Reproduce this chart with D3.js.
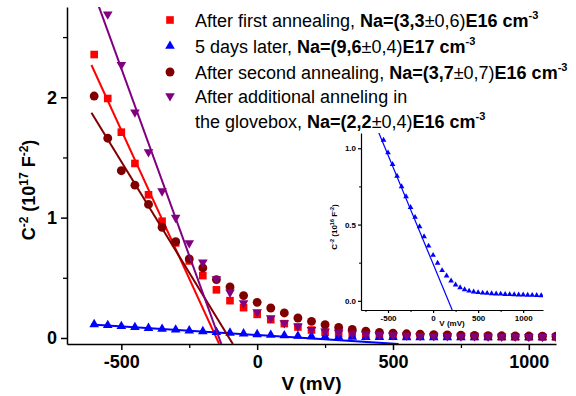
<!DOCTYPE html>
<html>
<head>
<meta charset="utf-8">
<script src="https://cdn.jsdelivr.net/npm/d3@7"></script>
<style>
  body { margin: 0; background: #fff; }
  svg { display: block; font-family: Arial, "Liberation Sans", sans-serif; }
</style>
</head>
<body>
<div id="app"></div>
<script>
// bias voltage (mV) of the main curves
const volts = [-600, -550, -500, -450, -400, -350, -300, -250, -200, -150, -100, -50,
  0, 50, 100, 150, 200, 250, 300, 350, 400, 450, 500, 550, 600, 650, 700, 750,
  800, 850, 900, 950, 1000, 1050, 1100];

// C^-2 in 1e17 F^-2
const firstAnneal = [2.355, 1.99, 1.71, 1.45, 1.19, 0.97, 0.79, 0.64, 0.518, 0.40, 0.31, 0.252,
  0.196, 0.152, 0.119, 0.091, 0.066, 0.047, 0.038, 0.032, 0.028, 0.024, 0.021, 0.019,
  0.017, 0.016, 0.015, 0.014, 0.013, 0.012, 0.011, 0.010, 0.010, 0.009, 0.009];
const secondAnneal = [2.01, 1.66, 1.39, 1.27, 1.11, 0.92, 0.80, 0.657, 0.582, 0.485, 0.424, 0.352,
  0.296, 0.249, 0.208, 0.166, 0.138, 0.110, 0.088, 0.071, 0.057, 0.047, 0.040, 0.035,
  0.031, 0.028, 0.025, 0.023, 0.021, 0.019, 0.018, 0.017, 0.016, 0.015, 0.014];
const glovebox = [null, 2.69, 2.27, 1.875, 1.546, 1.22, 1.0, 0.79, 0.628, 0.49, 0.379, 0.291,
  0.216, 0.166, 0.125, 0.097, 0.069, 0.055, 0.045, 0.038, 0.032, 0.027, 0.024, 0.021,
  0.019, 0.017, 0.016, 0.015, 0.014, 0.013, 0.012, 0.012, 0.011, 0.011, 0.010];

// "5 days later" series, C^-2 in 1e16 F^-2 (inset units)
const blueVolts = [-600, -550, -500, -450, -400, -350, -300, -250, -200, -150, -100, -50,
  0, 50, 100, 150, 200, 250, 300, 350, 400, 450, 500, 550, 600, 650, 700, 750,
  800, 850, 900, 950, 1000, 1050, 1100, 1150, 1200];
const daysLater = [1.13, 1.054, 0.971, 0.895, 0.818, 0.749, 0.683, 0.613, 0.548, 0.487, 0.421, 0.36,
  0.299, 0.247, 0.199, 0.164, 0.131, 0.105, 0.087, 0.074, 0.065, 0.059, 0.055, 0.052,
  0.050, 0.048, 0.046, 0.045, 0.043, 0.042, 0.041, 0.040, 0.039, 0.038, 0.037, 0.036, 0.035];

// linear fits: x-intercept (mV) and slope (1e17 F^-2 per mV)
const fitIntercept = [-150, 170, -103, -140];
const fitSlope = [-0.00493, -0.0001426, -0.00369, -0.00622];

const legendText = ["After first annealing, ", "5 days later, ", "After second annealing, ", "After additional anneling in", "the glovebox, "];
const legendNa = ["(3,3", "(9,6", "(3,7", null, "(2,2"];
const legendErr = ["±0,6)", "±0,4)", "±0,7)", null, "±0,4)"];
const legendExp = ["E16", "E17", "E16", null, "E16"];

const xTicks = [-500, 0, 500, 1000], xMinor = [-250, 250, 750];
const yTicks = [0, 1, 2], yMinor = [0.5, 1.5, 2.5];
const ixTicks = [-500, 0, 500, 1000], ixMinor = [-750, -250, 250, 750];
const iyTicks = [0, 0.5, 1.0], iyMinor = [0.25, 0.75];

const colors = ["#ff0000", "#0000ff", "#800000", "#800080"];

const x  = d3.scaleLinear().domain([-700, 1100]).range([67, 556]),
      y  = d3.scaleLinear().domain([-0.05, 2.75]).range([344, 7]),
      ix = d3.scaleLinear().domain([-800, 1220]).range([361, 543]),
      iy = d3.scaleLinear().domain([-0.06, 1.10]).range([310, 133]);

const svg = d3.select("#app")
.append("svg")
  .attr("width", 576)
  .attr("height", 396);

const defs = svg.append("defs");
defs.append("clipPath").attr("id", "clipMain")
.append("rect")
  .attr("x", x.range()[0]).attr("y", y.range()[1])
  .attr("width", x.range()[1] - x.range()[0])
  .attr("height", y.range()[0] - y.range()[1]);
defs.append("clipPath").attr("id", "clipInset")
.append("rect")
  .attr("x", ix.range()[0]).attr("y", iy.range()[1])
  .attr("width", ix.range()[1] - ix.range()[0])
  .attr("height", iy.range()[0] - iy.range()[1]);

function styleAxis(g, size, w) {
  g.attr("font-family", "Arial, 'Liberation Sans', sans-serif")
   .attr("font-size", size)
   .attr("font-weight", "bold");
  g.select(".domain").attr("stroke-width", w);
  g.selectAll(".tick line").attr("stroke-width", w);
}
const plain = d => String(d);

/* main axes */
svg.append("g")
  .attr("transform", `translate(0,${y.range()[0]})`)
  .call(d3.axisBottom(x).tickValues(xMinor).tickSize(4).tickFormat(""))
  .call(g => { g.select(".domain").remove(); g.selectAll("line").attr("stroke-width", 1.3); });
svg.append("g")
  .attr("transform", `translate(0,${y.range()[0]})`)
  .call(d3.axisBottom(x).tickValues(xTicks).tickSize(6).tickSizeOuter(0).tickPadding(5).tickFormat(plain))
  .call(g => styleAxis(g, 18, 1.5));
svg.append("g")
  .attr("transform", `translate(${x.range()[0]},0)`)
  .call(d3.axisLeft(y).tickValues(yMinor).tickSize(4).tickFormat(""))
  .call(g => { g.select(".domain").remove(); g.selectAll("line").attr("stroke-width", 1.3); });
svg.append("g")
  .attr("transform", `translate(${x.range()[0]},0)`)
  .call(d3.axisLeft(y).tickValues(yTicks).tickSize(6).tickSizeOuter(0).tickPadding(4).tickFormat(plain))
  .call(g => styleAxis(g, 18, 1.5));

svg.append("text")
  .attr("x", (x.range()[0] + x.range()[1]) / 2).attr("y", 390)
  .attr("text-anchor", "middle")
  .attr("font-size", 19).attr("font-weight", "bold")
  .text("V (mV)");

function supTitle(g, parts, supSize, rise) {
  parts.forEach(p => {
    const t = g.append("tspan").text(p[0]);
    if (p[1]) t.attr("font-size", supSize).attr("dy", -rise);
    else if (p[2]) t.attr("dy", rise);
  });
}
const yTitle = svg.append("text")
  .attr("transform", "translate(35,190) rotate(-90)")
  .attr("text-anchor", "middle")
  .attr("font-size", 18).attr("font-weight", "bold");
supTitle(yTitle, [["C"], ["-2", 1], [" (10", 0, 1], ["17", 1], [" F", 0, 1], ["-2", 1], [")", 0, 1]], 12, 7);

/* fit lines and points of the main plot */
const plot = svg.append("g").attr("clip-path", "url(#clipMain)");
const line = d3.line().x(d => x(d[0])).y(d => y(d[1]));

function fitPoints(k, scaleMul, yMin) {
  const f = v => fitSlope[k] * scaleMul * (v - fitIntercept[k]);
  const vEnd = fitIntercept[k] + yMin / (fitSlope[k] * scaleMul);
  return [[-610, f(-610)], [vEnd, f(vEnd)]];
}

const mainSeries = [
  { pts: volts.map((v, i) => [v, firstAnneal[i]]), type: d3.symbolSquare, size: 58, rot: 0 },
  { pts: blueVolts.map((v, i) => [v, daysLater[i] / 10]), type: d3.symbolTriangle, size: 40, rot: 0 },
  { pts: volts.map((v, i) => [v, secondAnneal[i]]), type: d3.symbolCircle, size: 62, rot: 0 },
  { pts: volts.map((v, i) => [v, glovebox[i]]), type: d3.symbolTriangle, size: 40, rot: 180 }
];

mainSeries.forEach((s, k) => {
  plot.selectAll(".m" + k)
    .data(s.pts.filter(d => d[1] != null))
  .enter()
  .append("path")
    .attr("class", "m" + k)
    .attr("transform", d => `translate(${x(d[0])},${y(d[1])}) rotate(${s.rot})`)
    .attr("d", d3.symbol().type(s.type).size(s.size))
    .attr("fill", colors[k]);
  plot.append("path")
    .datum(fitPoints(k, 1, -0.05))
    .attr("d", line)
    .attr("fill", "none")
    .attr("stroke", colors[k])
    .attr("stroke-width", 2);
});

/* legend */
const legend = svg.append("g").attr("font-size", 18);
const legendY = [20, 46, 72, 96, 121];
legendText.forEach((t, k) => {
  if (k < 4) {
    legend.append("path")
      .attr("transform", `translate(170,${legendY[k]}) rotate(${mainSeries[k].rot})`)
      .attr("d", d3.symbol().type(mainSeries[k].type).size(mainSeries[k].size))
      .attr("fill", colors[k]);
  }
  const txt = legend.append("text")
    .attr("x", 195).attr("y", legendY[k] + 6.5);
  txt.append("tspan").text(t);
  if (legendNa[k]) {
    txt.append("tspan").attr("font-weight", "bold").text("Na=" + legendNa[k]);
    txt.append("tspan").text(legendErr[k]);
    txt.append("tspan").attr("font-weight", "bold").text(legendExp[k] + " cm");
    txt.append("tspan").attr("font-weight", "bold").attr("font-size", 11).attr("dy", -8).text("-3");
  }
});

/* inset */
svg.append("g")
  .attr("transform", `translate(0,${iy.range()[0]})`)
  .call(d3.axisBottom(ix).tickValues(ixMinor).tickSize(2).tickFormat(""))
  .call(g => { g.select(".domain").remove(); g.selectAll("line").attr("stroke-width", 1); });
svg.append("g")
  .attr("transform", `translate(0,${iy.range()[0]})`)
  .call(d3.axisBottom(ix).tickValues(ixTicks).tickSize(3).tickSizeOuter(0).tickPadding(2).tickFormat(plain))
  .call(g => styleAxis(g, 8, 1.2));
svg.append("g")
  .attr("transform", `translate(${ix.range()[0]},0)`)
  .call(d3.axisLeft(iy).tickValues(iyMinor).tickSize(2).tickFormat(""))
  .call(g => { g.select(".domain").remove(); g.selectAll("line").attr("stroke-width", 1); });
svg.append("g")
  .attr("transform", `translate(${ix.range()[0]},0)`)
  .call(d3.axisLeft(iy).tickValues(iyTicks).tickSize(3).tickSizeOuter(0).tickPadding(2).tickFormat(d => d.toFixed(1)))
  .call(g => styleAxis(g, 8, 1.2));

svg.append("text")
  .attr("x", (ix.range()[0] + ix.range()[1]) / 2).attr("y", 326)
  .attr("text-anchor", "middle")
  .attr("font-size", 8).attr("font-weight", "bold")
  .text("V (mV)");
const iyTitle = svg.append("text")
  .attr("transform", "translate(337,227) rotate(-90)")
  .attr("text-anchor", "middle")
  .attr("font-size", 8).attr("font-weight", "bold");
supTitle(iyTitle, [["C"], ["-2", 1], [" (10", 0, 1], ["16", 1], [" F", 0, 1], ["-2", 1], [")", 0, 1]], 5.5, 3);

const inset = svg.append("g").attr("clip-path", "url(#clipInset)");
const iline = d3.line().x(d => ix(d[0])).y(d => iy(d[1]));
inset.append("path")
  .datum(fitPoints(1, 10, -0.06))
  .attr("d", iline)
  .attr("fill", "none")
  .attr("stroke", colors[1])
  .attr("stroke-width", 1.2);
inset.selectAll(".ins")
  .data(blueVolts.map((v, i) => [v, daysLater[i]]))
.enter()
.append("path")
  .attr("class", "ins")
  .attr("transform", d => `translate(${ix(d[0])},${iy(d[1])})`)
  .attr("d", d3.symbol().type(d3.symbolTriangle).size(14))
  .attr("fill", colors[1]);
</script>
</body>
</html>
